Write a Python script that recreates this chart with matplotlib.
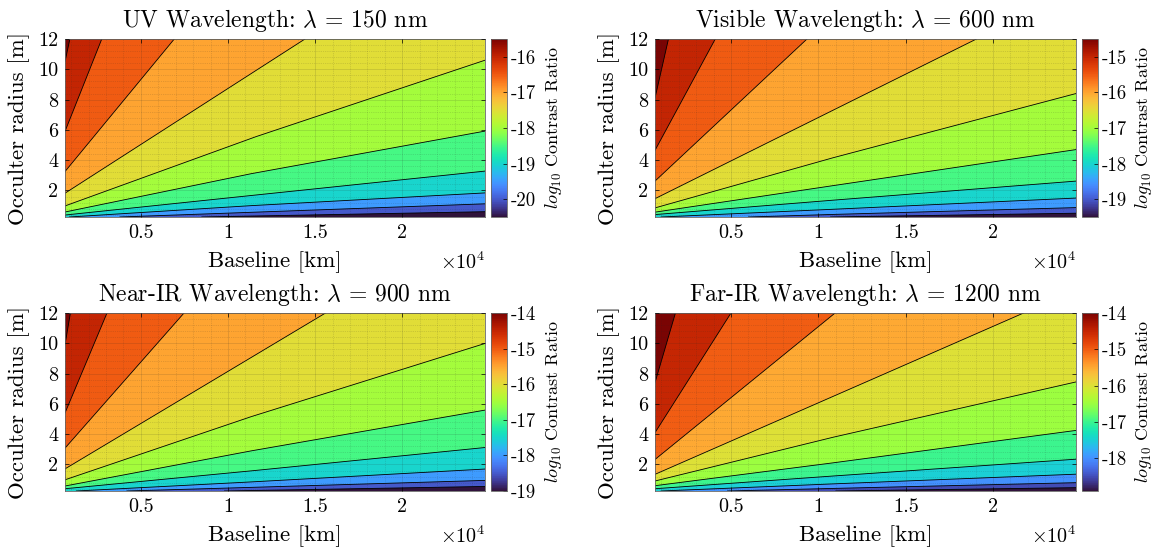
import numpy as np
import matplotlib
matplotlib.use('Agg')
from matplotlib import pyplot as plt
from matplotlib.colors import Normalize
from matplotlib.cm import ScalarMappable
from matplotlib.ticker import MultipleLocator

plt.rcParams['font.family'] = 'serif'
plt.rcParams['font.serif'] = ['cmr10']
plt.rcParams['mathtext.fontset'] = 'cm'
plt.rcParams['axes.unicode_minus'] = False

# panel names and wavelengths [nm]
names = ['UV', 'Visible', 'Near-IR', 'Far-IR']
wavelengths = [150, 600, 900, 1200]

# axis ranges: baseline [km], occulter radius [m]
b_lim = (650, 24750)
r_lim = (0.25, 12)

# contour lines: levels (log10 contrast), then baseline [km] / radius [m] points
uv_levels = [-15.5, -16.0, -16.5, -17.0, -17.5, -18.0, -18.5, -19.0, -19.5, -20.0]
uv_b = [[650, 930], [650, 2760], [650, 6920], [650, 14420],
        [650, 11600, 24750], [650, 11340, 24750], [650, 11340, 24750],
        [900, 11340, 24750], [3800, 11340, 24750], [8500, 24750]]
uv_r = [[10.5, 12], [5.9, 12], [3.25, 12], [1.82, 12],
        [0.98, 5.55, 10.6], [0.58, 3.11, 5.92], [0.38, 1.67, 3.28],
        [0.25, 1.0, 1.84], [0.25, 0.56, 1.12], [0.25, 0.6]]
uv_clim = (-20.5, -15.5)
uv_cticks = [-20, -19, -18, -17, -16]

vis_levels = [-14.5, -15.0, -15.5, -16.0, -16.5, -17.0, -17.5, -18.0, -18.5, -19.0]
vis_b = [[650, 1420], [650, 4100], [650, 9350], [650, 19050],
         [650, 10840, 24750], [650, 10840, 24750], [650, 10840, 24750],
         [1000, 10840, 24750], [6000, 10840, 24750], [10700, 24750]]
vis_r = [[8.1, 12], [4.65, 12], [2.62, 12], [1.46, 12],
         [0.85, 4.16, 8.4], [0.57, 2.32, 4.7], [0.41, 1.36, 2.62],
         [0.25, 0.76, 1.5], [0.25, 0.42, 0.87], [0.25, 0.5]]
vis_clim = (-19.5, -14.5)
vis_cticks = [-19, -18, -17, -16, -15]

nir_levels = [-14.0, -14.5, -15.0, -15.5, -16.0, -16.5, -17.0, -17.5, -18.0, -18.5]
nir_b = [[650, 960], [650, 3060], [650, 7480], [650, 15600],
         [650, 11340, 24750], [650, 11340, 24750], [650, 11340, 24750],
         [1300, 11340, 24750], [4200, 11340, 24750], [9800, 24750]]
nir_r = [[9.9, 12], [5.4, 12], [3.08, 12], [1.71, 12],
         [0.99, 5.16, 9.99], [0.58, 2.9, 5.59], [0.4, 1.58, 3.12],
         [0.25, 0.85, 1.7], [0.25, 0.49, 0.95], [0.25, 0.55]]
nir_clim = (-19.0, -14.0)
nir_cticks = [-19, -18, -17, -16, -15, -14]

fir_levels = [-14.0, -14.5, -15.0, -15.5, -16.0, -16.5, -17.0, -17.5, -18.0, -18.5]
fir_b = [[650, 1820], [650, 5000], [650, 10960], [650, 21750],
         [650, 10850, 24750], [650, 10850, 24750], [650, 10850, 24750],
         [1000, 10850, 24750], [4800, 10850, 24750], [11000, 24750]]
fir_r = [[7.4, 12], [4.1, 12], [2.33, 12], [1.35, 12],
         [0.91, 3.8, 7.45], [0.6, 2.11, 4.25], [0.4, 1.24, 2.35],
         [0.25, 0.72, 1.36], [0.25, 0.42, 0.8], [0.25, 0.47]]
fir_clim = (-18.9, -14.0)
fir_cticks = [-18, -17, -16, -15, -14]

panels = [
    (uv_levels, uv_b, uv_r, uv_clim, uv_cticks),
    (vis_levels, vis_b, vis_r, vis_clim, vis_cticks),
    (nir_levels, nir_b, nir_r, nir_clim, nir_cticks),
    (fir_levels, fir_b, fir_r, fir_clim, fir_cticks),
]

W, H = 1155, 555
fig = plt.figure(figsize=(W / 100, H / 100), dpi=100)
cmap = plt.get_cmap('turbo')

# pixel boxes (left, top, width, height)
ax_boxes = [(65, 39, 420, 178), (655, 39, 421, 178), (65, 313, 420, 178), (655, 313, 421, 178)]


def px_axes(l, t, w, h):
    return fig.add_axes([l / W, 1 - (t + h) / H, w / W, h / H])


for i, (levels, lines_b, lines_r, clim, cticks) in enumerate(panels):
    l, t, w, h = ax_boxes[i]
    ax = px_axes(l, t, w, h)
    cax = px_axes(l + w + 6, t, 16, h)
    norm = Normalize(*clim)

    ax.set_xlim(b_lim)
    ax.set_ylim(r_lim)
    ax.set_facecolor(cmap(norm(clim[0])))

    # paint regions above each contour, lowest level first
    order = np.argsort(levels)
    for k in order:
        bs, rs = lines_b[k], lines_r[k]
        xs = list(bs) + [bs[-1], b_lim[0], b_lim[0]]
        ys = list(rs) + [r_lim[1], r_lim[1], rs[0]]
        ax.fill(xs, ys, color=cmap(norm(levels[k])), lw=0, zorder=1)
    for bs, rs in zip(lines_b, lines_r):
        ax.plot(bs, rs, color='k', lw=0.6, zorder=2)

    # axes cosmetics (matlab-ish)
    ax.set_axisbelow(False)
    ax.set_xticks([5000, 10000, 15000, 20000])
    ax.set_xticklabels(['0.5', '1', '1.5', '2'])
    ax.set_yticks([2, 4, 6, 8, 10, 12])
    ax.set_yticklabels(['2', '4', '6', '8', '10', '12'])
    ax.xaxis.set_minor_locator(MultipleLocator(1000))
    ax.yaxis.set_minor_locator(MultipleLocator(0.4))
    ax.grid(True, which='major', color='#262626', alpha=0.15, lw=0.6)
    ax.grid(True, which='minor', color='#262626', alpha=0.25, lw=0.5, ls=':')
    ax.tick_params(which='major', direction='in', length=3, width=0.5,
                   top=True, right=True, labelsize=14.5, pad=5)
    ax.tick_params(which='minor', length=0)
    for s in ax.spines.values():
        s.set_color('0.4')
        s.set_linewidth(0.6)

    ax.text(0.5, 1 + 18 / h, r'%s Wavelength: $\lambda$ = %d nm' % (names[i], wavelengths[i]),
            transform=ax.transAxes, ha='center', va='center', fontsize=17)
    ax.set_xlabel('Baseline [km]', fontsize=16.5)
    ax.xaxis.set_label_coords(0.5, -45 / h)
    ax.xaxis.label.set_va('center')
    ax.set_ylabel('Occulter radius [m]', fontsize=16.5)
    ax.yaxis.set_label_coords(-46 / w, 0.5)
    ax.yaxis.label.set_va('center')
    ax.text(1.0, -45 / h, r'$\times10^4$', transform=ax.transAxes,
            ha='right', va='center', fontsize=14.5)

    # colorbar
    cb = fig.colorbar(ScalarMappable(norm=norm, cmap=cmap), cax=cax)
    cb.set_ticks(cticks)
    cb.set_ticklabels([str(c) for c in cticks])
    cb.outline.set_edgecolor('0.4')
    cb.outline.set_linewidth(0.6)
    cax.tick_params(direction='in', length=3, width=0.5, labelsize=13.5, pad=3)
    cb.set_label(r'$log_{10}$ Contrast Ratio', fontsize=13)
    cax.yaxis.set_label_coords(1 + 46 / 16, 0.5)
    cax.yaxis.label.set_va('center')

fig.savefig('out.png', dpi=100)
